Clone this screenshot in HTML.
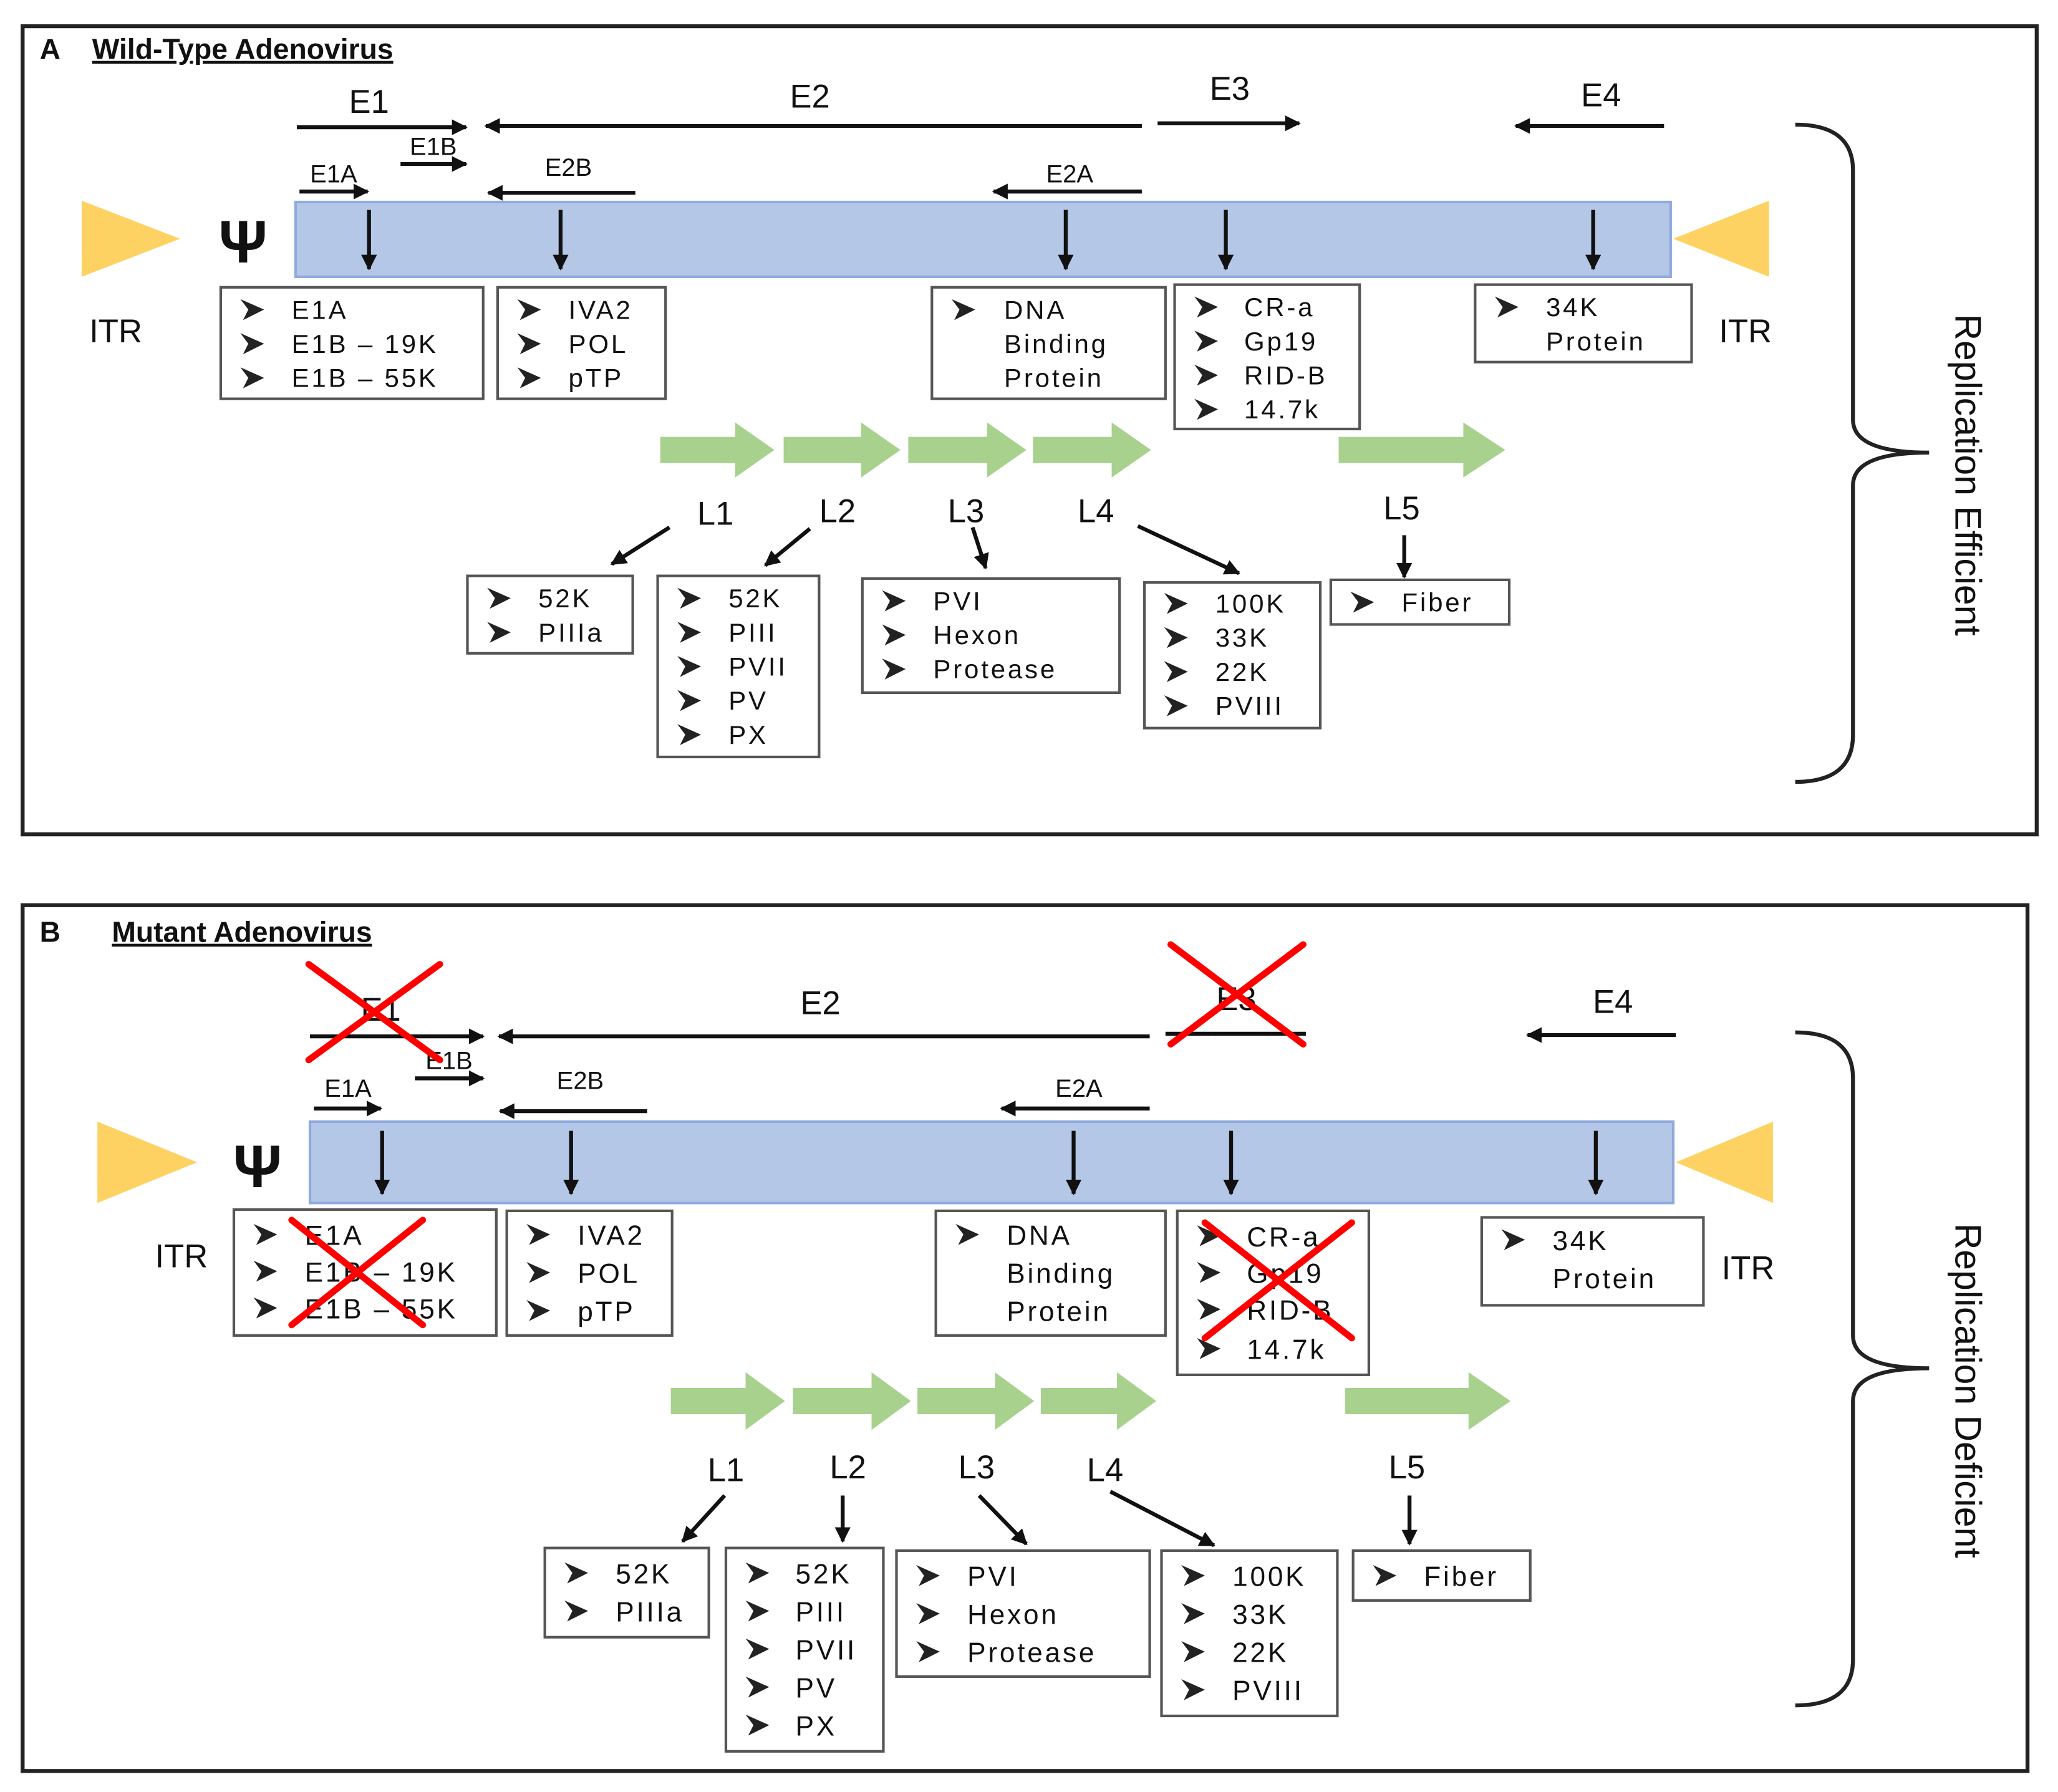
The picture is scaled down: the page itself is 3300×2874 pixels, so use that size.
<!DOCTYPE html>
<html><head><meta charset="utf-8"><style>
html,body{margin:0;padding:0;background:#fff;}
svg{display:block;}
text{font-family:"Liberation Sans",sans-serif;fill:#111;}
g[font-size="20"] text, g[font-size="21"] text{letter-spacing:1.8px;}
</style></head><body>
<svg width="3300" height="2874" viewBox="0 0 1568 1366" xmlns="http://www.w3.org/2000/svg">
<defs>
<marker id="ah" viewBox="0 0 10 10" refX="9" refY="5" markerWidth="4" markerHeight="4" orient="auto-start-reverse" markerUnits="strokeWidth">
<path d="M0,0 L10,5 L0,10 z" fill="#111"/></marker>
<symbol id="bul" viewBox="0 0 20 16" overflow="visible"><path d="M0,0 L18,8 L2,16 L6,8z" fill="#222"/></symbol>
</defs>
<g stroke-linecap="butt">
<!-- PANEL A -->
<rect x="17" y="20" width="1535" height="616" fill="none" stroke="#222" stroke-width="3"/>
<text x="30" y="45" font-size="22" font-weight="bold">A</text>
<text x="70" y="45" font-size="22" font-weight="bold" text-decoration="underline">Wild-Type Adenovirus</text>
<g stroke="#111" stroke-width="3" fill="none">
<line x1="226" y1="97" x2="355" y2="97" marker-end="url(#ah)"/>
<line x1="870" y1="96" x2="370" y2="96" marker-end="url(#ah)"/>
<line x1="882" y1="94" x2="990" y2="94" marker-end="url(#ah)"/>
<line x1="1268" y1="96" x2="1155" y2="96" marker-end="url(#ah)"/>
<line x1="305" y1="125" x2="355" y2="125" marker-end="url(#ah)"/>
<line x1="228" y1="146" x2="280" y2="146" marker-end="url(#ah)"/>
<line x1="484" y1="147" x2="372" y2="147" marker-end="url(#ah)"/>
<line x1="870" y1="146" x2="757" y2="146" marker-end="url(#ah)"/>
</g>
<g font-size="25" text-anchor="middle">
<text x="281" y="86">E1</text><text x="617" y="82">E2</text><text x="937" y="76">E3</text><text x="1220" y="81">E4</text>
</g>
<g font-size="19" text-anchor="middle">
<text x="330" y="118">E1B</text><text x="254" y="139">E1A</text><text x="433" y="134">E2B</text><text x="815" y="139">E2A</text>
</g>
<rect x="225" y="154" width="1048" height="57" fill="#b4c7e7" stroke="#8faadc" stroke-width="2"/>
<g stroke="#111" stroke-width="3">
<line x1="281" y1="160" x2="281" y2="205" marker-end="url(#ah)"/>
<line x1="427" y1="160" x2="427" y2="205" marker-end="url(#ah)"/>
<line x1="812" y1="160" x2="812" y2="205" marker-end="url(#ah)"/>
<line x1="934" y1="160" x2="934" y2="205" marker-end="url(#ah)"/>
<line x1="1214" y1="160" x2="1214" y2="205" marker-end="url(#ah)"/>
</g>
<polygon points="62,153 137,182 62,211" fill="#fdd262"/>
<polygon points="1348,153 1275,182 1348,211" fill="#fdd262"/>
<text x="185" y="200" font-size="46" text-anchor="middle" font-weight="bold">Ψ</text>
<text x="88" y="261" font-size="25" text-anchor="middle">ITR</text>
<text x="1330" y="261" font-size="25" text-anchor="middle">ITR</text>
<g fill="#fff" stroke="#555" stroke-width="2">
<rect x="168" y="219" width="200" height="85"/><rect x="379" y="219" width="128" height="85"/>
<rect x="710" y="219" width="178" height="85"/><rect x="895" y="217" width="141" height="110"/>
<rect x="1124" y="217" width="165" height="59"/>
<rect x="356" y="439" width="126" height="59"/><rect x="501" y="439" width="123" height="138"/>
<rect x="657" y="441" width="196" height="87"/><rect x="872" y="444" width="134" height="111"/>
<rect x="1014" y="442" width="136" height="34"/>
</g>
<g font-size="20">
<use href="#bul" x="183" y="228" width="20" height="16"/><text x="222" y="243">E1A</text>
<use href="#bul" x="183" y="254" width="20" height="16"/><text x="222" y="269">E1B – 19K</text>
<use href="#bul" x="183" y="280" width="20" height="16"/><text x="222" y="295">E1B – 55K</text>
<use href="#bul" x="394" y="228" width="20" height="16"/><text x="433" y="243">IVA2</text>
<use href="#bul" x="394" y="254" width="20" height="16"/><text x="433" y="269">POL</text>
<use href="#bul" x="394" y="280" width="20" height="16"/><text x="433" y="295">pTP</text>
<use href="#bul" x="725" y="228" width="20" height="16"/><text x="765" y="243">DNA</text>
<text x="765" y="269">Binding</text><text x="765" y="295">Protein</text>
<use href="#bul" x="910" y="226" width="20" height="16"/><text x="948" y="241">CR-a</text>
<use href="#bul" x="910" y="252" width="20" height="16"/><text x="948" y="267">Gp19</text>
<use href="#bul" x="910" y="278" width="20" height="16"/><text x="948" y="293">RID-B</text>
<use href="#bul" x="910" y="304" width="20" height="16"/><text x="948" y="319">14.7k</text>
<use href="#bul" x="1139" y="226" width="20" height="16"/><text x="1178" y="241">34K</text>
<text x="1178" y="267">Protein</text>
<use href="#bul" x="371" y="448" width="20" height="16"/><text x="410" y="463">52K</text>
<use href="#bul" x="371" y="474" width="20" height="16"/><text x="410" y="489">PIIIa</text>
<use href="#bul" x="516" y="448" width="20" height="16"/><text x="555" y="463">52K</text>
<use href="#bul" x="516" y="474" width="20" height="16"/><text x="555" y="489">PIII</text>
<use href="#bul" x="516" y="500" width="20" height="16"/><text x="555" y="515">PVII</text>
<use href="#bul" x="516" y="526" width="20" height="16"/><text x="555" y="541">PV</text>
<use href="#bul" x="516" y="552" width="20" height="16"/><text x="555" y="567">PX</text>
<use href="#bul" x="672" y="450" width="20" height="16"/><text x="711" y="465">PVI</text>
<use href="#bul" x="672" y="476" width="20" height="16"/><text x="711" y="491">Hexon</text>
<use href="#bul" x="672" y="502" width="20" height="16"/><text x="711" y="517">Protease</text>
<use href="#bul" x="887" y="452" width="20" height="16"/><text x="926" y="467">100K</text>
<use href="#bul" x="887" y="478" width="20" height="16"/><text x="926" y="493">33K</text>
<use href="#bul" x="887" y="504" width="20" height="16"/><text x="926" y="519">22K</text>
<use href="#bul" x="887" y="530" width="20" height="16"/><text x="926" y="545">PVIII</text>
<use href="#bul" x="1029" y="451" width="20" height="16"/><text x="1068" y="466">Fiber</text>
</g>
<g fill="#a9d18e">
<polygon points="503,333 560,333 560,322 590,343 560,364 560,353 503,353"/>
<polygon points="597,333 656,333 656,322 686,343 656,364 656,353 597,353"/>
<polygon points="692,333 752,333 752,322 782,343 752,364 752,353 692,353"/>
<polygon points="787,333 847,333 847,322 877,343 847,364 847,353 787,353"/>
<polygon points="1020,333 1115,333 1115,322 1147,343 1115,364 1115,353 1020,353"/>
</g>
<g font-size="25" text-anchor="middle">
<text x="545" y="400">L1</text><text x="638" y="398">L2</text><text x="736" y="398">L3</text><text x="835" y="398">L4</text><text x="1068" y="396">L5</text>
</g>
<g stroke="#111" stroke-width="3">
<line x1="510" y1="402" x2="466" y2="430" marker-end="url(#ah)"/>
<line x1="617" y1="403" x2="583" y2="431" marker-end="url(#ah)"/>
<line x1="741" y1="402" x2="751" y2="433" marker-end="url(#ah)"/>
<line x1="867" y1="401" x2="944" y2="437" marker-end="url(#ah)"/>
<line x1="1070" y1="408" x2="1070" y2="440" marker-end="url(#ah)"/>
</g>
<path d="M1368,95 Q1412,95 1412,130 L1412,320 Q1412,345 1470,345 Q1412,345 1412,370 L1412,560 Q1412,596 1368,596" fill="none" stroke="#222" stroke-width="3"/>
<text transform="translate(1490,362) rotate(90)" font-size="28" text-anchor="middle">Replication Efficient</text>

<!-- PANEL B -->
<rect x="17" y="690" width="1528" height="660" fill="none" stroke="#222" stroke-width="3"/>
<text x="30" y="718" font-size="22" font-weight="bold">B</text>
<text x="85" y="718" font-size="22" font-weight="bold" text-decoration="underline">Mutant Adenovirus</text>
<g stroke="#111" stroke-width="3" fill="none">
<line x1="236" y1="790" x2="368" y2="790" marker-end="url(#ah)"/>
<line x1="876" y1="790" x2="380" y2="790" marker-end="url(#ah)"/>
<line x1="888" y1="788" x2="995" y2="788"/>
<line x1="1277" y1="789" x2="1164" y2="789" marker-end="url(#ah)"/>
<line x1="316" y1="822" x2="368" y2="822" marker-end="url(#ah)"/>
<line x1="239" y1="845" x2="290" y2="845" marker-end="url(#ah)"/>
<line x1="493" y1="847" x2="381" y2="847" marker-end="url(#ah)"/>
<line x1="876" y1="845" x2="763" y2="845" marker-end="url(#ah)"/>
</g>
<g font-size="25" text-anchor="middle">
<text x="290" y="778">E1</text><text x="625" y="773">E2</text><text x="942" y="770">E3</text><text x="1229" y="772">E4</text>
</g>
<g font-size="19" text-anchor="middle">
<text x="342" y="815">E1B</text><text x="265" y="836">E1A</text><text x="442" y="830">E2B</text><text x="822" y="836">E2A</text>
</g>
<rect x="236" y="855" width="1039" height="62" fill="#b4c7e7" stroke="#8faadc" stroke-width="2"/>
<g stroke="#111" stroke-width="3">
<line x1="291" y1="862" x2="291" y2="910" marker-end="url(#ah)"/>
<line x1="435" y1="862" x2="435" y2="910" marker-end="url(#ah)"/>
<line x1="818" y1="862" x2="818" y2="910" marker-end="url(#ah)"/>
<line x1="938" y1="862" x2="938" y2="910" marker-end="url(#ah)"/>
<line x1="1216" y1="862" x2="1216" y2="910" marker-end="url(#ah)"/>
</g>
<polygon points="74,855 150,886 74,917" fill="#fdd262"/>
<polygon points="1351,855 1277,886 1351,917" fill="#fdd262"/>
<text x="196" y="905" font-size="46" text-anchor="middle" font-weight="bold">Ψ</text>
<text x="138" y="966" font-size="25" text-anchor="middle">ITR</text>
<text x="1332" y="975" font-size="25" text-anchor="middle">ITR</text>
<g fill="#fff" stroke="#555" stroke-width="2">
<rect x="178" y="922" width="200" height="96"/><rect x="386" y="923" width="126" height="95"/>
<rect x="713" y="923" width="175" height="95"/><rect x="897" y="923" width="146" height="125"/>
<rect x="1129" y="928" width="169" height="67"/>
<rect x="415" y="1180" width="125" height="68"/><rect x="553" y="1180" width="120" height="155"/>
<rect x="683" y="1182" width="193" height="96"/><rect x="885" y="1182" width="134" height="126"/>
<rect x="1031" y="1182" width="135" height="38"/>
</g>
<g font-size="21">
<use href="#bul" x="193" y="933" width="20" height="16"/><text x="232" y="949">E1A</text>
<use href="#bul" x="193" y="961" width="20" height="16"/><text x="232" y="977">E1B – 19K</text>
<use href="#bul" x="193" y="989" width="20" height="16"/><text x="232" y="1005">E1B – 55K</text>
<use href="#bul" x="401" y="933" width="20" height="16"/><text x="440" y="949">IVA2</text>
<use href="#bul" x="401" y="962" width="20" height="16"/><text x="440" y="978">POL</text>
<use href="#bul" x="401" y="991" width="20" height="16"/><text x="440" y="1007">pTP</text>
<use href="#bul" x="728" y="933" width="20" height="16"/><text x="767" y="949">DNA</text>
<text x="767" y="978">Binding</text><text x="767" y="1007">Protein</text>
<use href="#bul" x="912" y="934" width="20" height="16"/><text x="950" y="950">CR-a</text>
<use href="#bul" x="912" y="962" width="20" height="16"/><text x="950" y="978">Gp19</text>
<use href="#bul" x="912" y="990" width="20" height="16"/><text x="950" y="1006">RID-B</text>
<use href="#bul" x="912" y="1020" width="20" height="16"/><text x="950" y="1036">14.7k</text>
<use href="#bul" x="1144" y="937" width="20" height="16"/><text x="1183" y="953">34K</text>
<text x="1183" y="982">Protein</text>
<use href="#bul" x="430" y="1191" width="20" height="16"/><text x="469" y="1207">52K</text>
<use href="#bul" x="430" y="1220" width="20" height="16"/><text x="469" y="1236">PIIIa</text>
<use href="#bul" x="568" y="1191" width="20" height="16"/><text x="606" y="1207">52K</text>
<use href="#bul" x="568" y="1220" width="20" height="16"/><text x="606" y="1236">PIII</text>
<use href="#bul" x="568" y="1249" width="20" height="16"/><text x="606" y="1265">PVII</text>
<use href="#bul" x="568" y="1278" width="20" height="16"/><text x="606" y="1294">PV</text>
<use href="#bul" x="568" y="1307" width="20" height="16"/><text x="606" y="1323">PX</text>
<use href="#bul" x="698" y="1193" width="20" height="16"/><text x="737" y="1209">PVI</text>
<use href="#bul" x="698" y="1222" width="20" height="16"/><text x="737" y="1238">Hexon</text>
<use href="#bul" x="698" y="1251" width="20" height="16"/><text x="737" y="1267">Protease</text>
<use href="#bul" x="900" y="1193" width="20" height="16"/><text x="939" y="1209">100K</text>
<use href="#bul" x="900" y="1222" width="20" height="16"/><text x="939" y="1238">33K</text>
<use href="#bul" x="900" y="1251" width="20" height="16"/><text x="939" y="1267">22K</text>
<use href="#bul" x="900" y="1280" width="20" height="16"/><text x="939" y="1296">PVIII</text>
<use href="#bul" x="1046" y="1193" width="20" height="16"/><text x="1085" y="1209">Fiber</text>
</g>
<g fill="#a9d18e">
<polygon points="511,1058 568,1058 568,1046 598,1068 568,1090 568,1078 511,1078"/>
<polygon points="604,1058 664,1058 664,1046 694,1068 664,1090 664,1078 604,1078"/>
<polygon points="699,1058 758,1058 758,1046 788,1068 758,1090 758,1078 699,1078"/>
<polygon points="793,1058 851,1058 851,1046 881,1068 851,1090 851,1078 793,1078"/>
<polygon points="1025,1058 1119,1058 1119,1046 1151,1068 1119,1090 1119,1078 1025,1078"/>
</g>
<g font-size="25" text-anchor="middle">
<text x="553" y="1129">L1</text><text x="646" y="1127">L2</text><text x="744" y="1127">L3</text><text x="842" y="1129">L4</text><text x="1072" y="1127">L5</text>
</g>
<g stroke="#111" stroke-width="3">
<line x1="552" y1="1140" x2="520" y2="1175" marker-end="url(#ah)"/>
<line x1="642" y1="1140" x2="642" y2="1175" marker-end="url(#ah)"/>
<line x1="746" y1="1140" x2="782" y2="1177" marker-end="url(#ah)"/>
<line x1="846" y1="1137" x2="925" y2="1178" marker-end="url(#ah)"/>
<line x1="1074" y1="1140" x2="1074" y2="1177" marker-end="url(#ah)"/>
</g>
<g stroke="#f00" stroke-width="5" stroke-linecap="round">
<line x1="235" y1="735" x2="335" y2="808"/><line x1="335" y1="735" x2="235" y2="808"/>
<line x1="892" y1="720" x2="993" y2="796"/><line x1="993" y1="720" x2="892" y2="796"/>
<line x1="222" y1="930" x2="322" y2="1010"/><line x1="322" y1="930" x2="222" y2="1010"/>
<line x1="918" y1="932" x2="1030" y2="1020"/><line x1="1030" y1="932" x2="918" y2="1020"/>
</g>
<path d="M1368,787 Q1412,787 1412,822 L1412,1018 Q1412,1043 1470,1043 Q1412,1043 1412,1068 L1412,1265 Q1412,1300 1368,1300" fill="none" stroke="#222" stroke-width="3"/>
<text transform="translate(1490,1060) rotate(90)" font-size="28" text-anchor="middle">Replication Deficient</text>
</g>
</svg>
</body></html>
